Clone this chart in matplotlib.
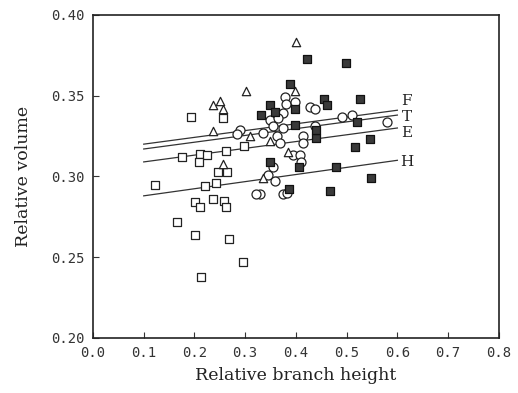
import numpy as np
import matplotlib
matplotlib.use("Agg")
import matplotlib.pyplot as plt

# open squares
sq_x = [0.122, 0.175, 0.211, 0.224, 0.209, 0.263, 0.246, 0.265, 0.221, 0.242,
        0.202, 0.211, 0.237, 0.258, 0.262, 0.165, 0.201, 0.269, 0.213, 0.296,
        0.194, 0.257, 0.297]
sq_y = [0.295, 0.312, 0.314, 0.313, 0.309, 0.316, 0.303, 0.303, 0.294, 0.296,
        0.284, 0.281, 0.286, 0.285, 0.281, 0.272, 0.264, 0.261, 0.238, 0.247,
        0.337, 0.336, 0.319]

# open circles
ci_x = [0.378, 0.380, 0.399, 0.349, 0.375, 0.365, 0.428, 0.437, 0.490, 0.510,
        0.579, 0.437, 0.336, 0.355, 0.375, 0.362, 0.414, 0.290, 0.283, 0.368,
        0.414, 0.395, 0.408, 0.411, 0.355, 0.345, 0.359, 0.329, 0.322, 0.375,
        0.382]
ci_y = [0.349, 0.345, 0.346, 0.335, 0.339, 0.336, 0.343, 0.342, 0.337, 0.338,
        0.334, 0.331, 0.327, 0.331, 0.330, 0.325, 0.325, 0.329, 0.326, 0.321,
        0.321, 0.313, 0.313, 0.309, 0.306, 0.301, 0.297, 0.289, 0.289, 0.289,
        0.290]

# open triangles
tr_x = [0.237, 0.250, 0.256, 0.237, 0.401, 0.301, 0.398, 0.309, 0.385, 0.336,
        0.257, 0.349]
tr_y = [0.344, 0.347, 0.342, 0.328, 0.383, 0.353, 0.353, 0.325, 0.315, 0.299,
        0.308, 0.322]

# filled squares
fs_x = [0.421, 0.499, 0.388, 0.398, 0.349, 0.359, 0.332, 0.456, 0.462, 0.526,
        0.521, 0.399, 0.546, 0.439, 0.439, 0.516, 0.406, 0.349, 0.480, 0.549,
        0.387, 0.467]
fs_y = [0.373, 0.370, 0.357, 0.342, 0.344, 0.340, 0.338, 0.348, 0.344, 0.348,
        0.334, 0.332, 0.323, 0.324, 0.329, 0.318, 0.306, 0.309, 0.306, 0.299,
        0.292, 0.291]

# regression lines: name, value at x=0.1, value at x=0.6
line_names = ["F", "T", "E", "H"]
line_start = [0.320, 0.317, 0.309, 0.288]
line_end = [0.341, 0.338, 0.330, 0.310]
label_y = [0.347, 0.337, 0.327, 0.309]
line_x = [0.1, 0.6]

fig = plt.figure(figsize=(5.18, 3.93), dpi=100)
ax = fig.add_axes([0.1795, 0.140, 0.7835, 0.822])

for i in range(len(line_names)):
    ax.plot(line_x, [line_start[i], line_end[i]], color="#333333", lw=0.9, zorder=1)
    ax.text(0.618, label_y[i], line_names[i], family="DejaVu Serif", fontsize=11,
            ha="center", va="center", color="#222222")

ax.scatter(sq_x, sq_y, marker="s", s=36, facecolor="white", edgecolor="#222222", lw=0.9, zorder=3)
ax.scatter(ci_x, ci_y, marker="o", s=42, facecolor="white", edgecolor="#222222", lw=0.9, zorder=3)
ax.scatter(tr_x, tr_y, marker="^", s=36, facecolor="white", edgecolor="#222222", lw=0.9, zorder=3)
ax.scatter(fs_x, fs_y, marker="s", s=26, facecolor="#3a3a3a", edgecolor="#111111", lw=0.9, zorder=4)

ax.set_xlim(0.0, 0.8)
ax.set_ylim(0.20, 0.40)
ax.set_xticks(np.arange(0, 0.81, 0.1))
ax.set_yticks(np.arange(0.20, 0.401, 0.05))
ax.set_xticklabels(["%.1f" % v for v in np.arange(0, 0.81, 0.1)])
ax.set_yticklabels(["%.2f" % v for v in np.arange(0.20, 0.401, 0.05)])
ax.tick_params(direction="in", length=4, width=0.8, labelsize=10, pad=6, colors="#333333")
for lab in ax.get_xticklabels() + ax.get_yticklabels():
    lab.set_family("DejaVu Sans Mono")
for sp in ax.spines.values():
    sp.set_linewidth(1.2)
    sp.set_color("#222222")

ax.set_xlabel("Relative branch height", family="DejaVu Serif", fontsize=12.5, labelpad=5, color="#222222")
ax.set_ylabel("Relative volume", family="DejaVu Serif", fontsize=12.5, labelpad=14, color="#222222")

plt.savefig("out.png", dpi=100)
